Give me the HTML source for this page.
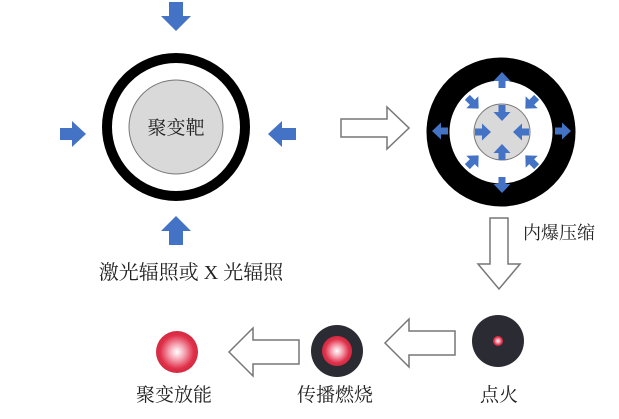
<!DOCTYPE html>
<html><head><meta charset="utf-8"><style>
body{margin:0;background:#fff}
svg{display:block}
text{font-family:"Liberation Serif","Noto Serif CJK SC",serif;fill:#222}
</style></head><body>
<svg width="619" height="419" viewBox="0 0 619 419" xmlns="http://www.w3.org/2000/svg">
<defs>
<radialGradient id="rg" cx="50%" cy="50%" r="50%">
<stop offset="0" stop-color="#fff"/><stop offset="0.35" stop-color="#f6a9b6"/><stop offset="0.8" stop-color="#e0304a"/><stop offset="1" stop-color="#d12a40"/>
</radialGradient>
<g id="sa"><path d="M-3.5,-8 h7 v7 h5 l-8.5,9 l-8.5,-9 h5 z" fill="#4472c4"/></g>
</defs>
<!-- left target -->
<circle cx="176" cy="127" r="69" fill="none" stroke="#000" stroke-width="10"/>
<circle cx="176" cy="127" r="47" fill="#d9d9d9" stroke="#777" stroke-width="1"/>
<text x="176" y="134" font-size="19" text-anchor="middle">聚变靶</text>
<path d="M169,2 h14 v14 h8 l-15,15 l-15,-15 h8z" fill="#4472c4"/>
<path d="M169,245 h14 v-14 h8 l-15,-15 l-15,15 h8z" fill="#4472c4"/>
<path d="M60,128 v12 h12 v7 l14,-13 l-14,-13 v7z" fill="#4472c4"/>
<path d="M296,128 v12 h-14 v7 l-14,-13 l14,-13 v7z" fill="#4472c4"/>
<text x="191" y="279" font-size="20" text-anchor="middle">激光辐照或 X 光辐照</text>
<!-- hollow right arrow -->
<path d="M341,119 h46 v-12 l22,21 l-22,21 v-12 h-46z" fill="#fff" stroke="#777" stroke-width="1.5"/>
<!-- right target -->
<circle cx="501" cy="132" r="63" fill="none" stroke="#000" stroke-width="23"/>
<circle cx="502" cy="132" r="28" fill="#d9d9d9" stroke="#777" stroke-width="1"/>
<g transform="translate(502,80) rotate(180)"><use href="#sa"/></g>
<g transform="translate(502,185)"><use href="#sa"/></g>
<g transform="translate(440,131) rotate(90)"><use href="#sa"/></g>
<g transform="translate(563,131) rotate(-90)"><use href="#sa"/></g>
<g transform="translate(473,103) rotate(-45)"><use href="#sa"/></g>
<g transform="translate(531,103) rotate(45)"><use href="#sa"/></g>
<g transform="translate(473,161) rotate(-135)"><use href="#sa"/></g>
<g transform="translate(531,161) rotate(135)"><use href="#sa"/></g>
<g transform="translate(502,113)"><use href="#sa"/></g>
<g transform="translate(502,152) rotate(180)"><use href="#sa"/></g>
<g transform="translate(483,132) rotate(-90)"><use href="#sa"/></g>
<g transform="translate(521,132) rotate(90)"><use href="#sa"/></g>
<text x="523" y="239" font-size="18">内爆压缩</text>
<!-- down hollow arrow -->
<path d="M490,218 v46 h-12 l21,25 l21,-25 h-12 v-46z" fill="#fff" stroke="#777" stroke-width="1.5"/>
<!-- bottom row -->
<circle cx="498" cy="341" r="26" fill="#2b2b33"/>
<circle cx="498" cy="341" r="5" fill="url(#rg)"/>
<text x="499" y="401" font-size="19" text-anchor="middle">点火</text>
<path d="M455,331 h-46 v-12 l-24,24 l24,24 v-12 h46z" fill="#fff" stroke="#777" stroke-width="1.5"/>
<circle cx="337" cy="351" r="26" fill="#2b2b33"/>
<circle cx="337" cy="351" r="15" fill="url(#rg)"/>
<text x="335" y="401" font-size="19" text-anchor="middle">传播燃烧</text>
<path d="M299,340 h-46 v-12 l-24,24 l24,24 v-12 h46z" fill="#fff" stroke="#777" stroke-width="1.5"/>
<circle cx="177" cy="352" r="21" fill="url(#rg)"/>
<text x="174" y="401" font-size="19" text-anchor="middle">聚变放能</text>
</svg>
</body></html>
